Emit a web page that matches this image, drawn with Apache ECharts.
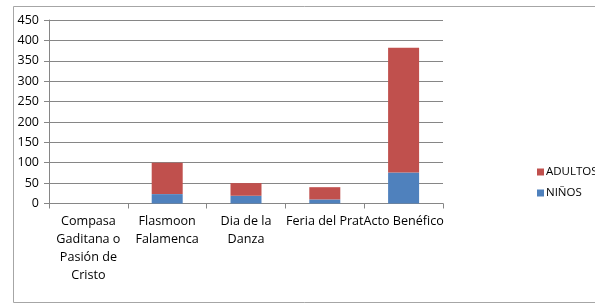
<!DOCTYPE html>
<html><head><meta charset="utf-8">
<script src="https://cdn.jsdelivr.net/npm/echarts@6/dist/echarts.min.js"></script>
<style>html,body{margin:0;padding:0;background:#fff}#c{width:595px;height:305px}</style>
</head><body><div id="c"></div>
<script>
const categories = ["Compasa\nGaditana o\nPasión de\nCristo", "Flasmoon\nFalamenca", "Dia de la\nDanza", "Feria del Prat", "Acto Benéfico"];
const ninos = [0, 23, 19, 10, 76];
const adultos = [0, 77, 31, 30, 306];
const yTicks = {min: 0, max: 450, interval: 50};
const FONT = "Open Sans";
const chart = echarts.init(document.getElementById('c'), null, {renderer: 'canvas'});
chart.setOption({
  animation: false,
  textStyle: {fontFamily: FONT},
  graphic: [{type: 'rect', shape: {x: 13.5, y: 6.5, width: 600, height: 296}, style: {fill: 'none', stroke: '#a6a6a6', lineWidth: 1}, silent: true}],
  grid: {left: 49, right: 152, top: 20, bottom: 101.5, containLabel: false},
  legend: {
    data: ['ADULTOS', 'NIÑOS'], orient: 'vertical', left: 532, top: 161,
    itemWidth: 7, itemHeight: 7, itemGap: 9, icon: 'rect',
    textStyle: {fontFamily: FONT, fontSize: 11.5, color: '#000', padding: [0, 0, 0, -3]}
  },
  xAxis: {
    type: 'category', data: categories,
    axisLine: {lineStyle: {color: '#868686'}},
    axisTick: {show: true, length: 5, lineStyle: {color: '#868686'}},
    axisLabel: {color: '#000', fontSize: 12.6, fontFamily: FONT, lineHeight: 18, margin: 9, interval: 0}
  },
  yAxis: {
    type: 'value', min: yTicks.min, max: yTicks.max, interval: yTicks.interval,
    axisLine: {show: true, lineStyle: {color: '#868686'}},
    axisTick: {show: true, length: 5, lineStyle: {color: '#868686'}},
    splitLine: {lineStyle: {color: '#868686'}},
    axisLabel: {color: '#000', fontSize: 12.5, fontFamily: FONT, margin: 10}
  },
  series: [
    {name: 'NIÑOS', type: 'bar', stack: 't', data: ninos, barWidth: 31, itemStyle: {color: '#4F81BD'}},
    {name: 'ADULTOS', type: 'bar', stack: 't', data: adultos, barWidth: 31, itemStyle: {color: '#C0504D'}}
  ]
});
</script></body></html>
